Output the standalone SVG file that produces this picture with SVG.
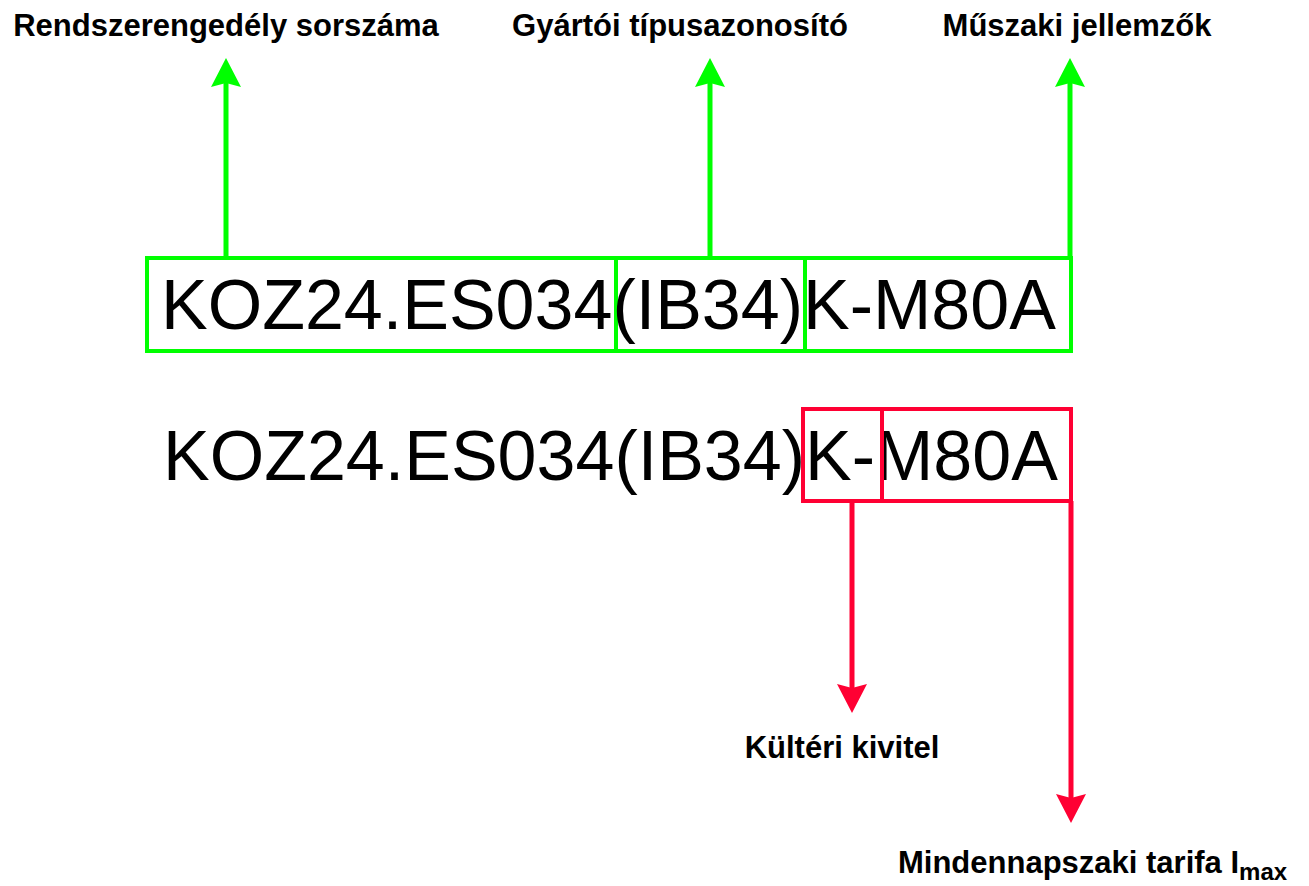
<svg xmlns="http://www.w3.org/2000/svg" width="1309" height="886" viewBox="0 0 1309 886">
<style>
.lbl{font-family:"Liberation Sans",Arial,sans-serif;font-weight:bold;font-size:31px;fill:#000}
.code{font-family:"Liberation Sans",Arial,sans-serif;font-size:70px;fill:#000}
.gbox{fill:none;stroke:#00FF00;stroke-width:4}
.rbox{fill:none;stroke:#FF0033;stroke-width:4}
.gline{fill:none;stroke:#00FF00;stroke-width:5}
.rline{fill:none;stroke:#FF0033;stroke-width:5}
</style>
<defs>
<marker id="ag" markerUnits="userSpaceOnUse" viewBox="0 0 29 30" markerWidth="29" markerHeight="30" refX="4" refY="15" orient="auto">
<path d="M0,0 L29,15 L0,30 L4,15 Z" fill="#00FF00"/>
</marker>
<marker id="ar" markerUnits="userSpaceOnUse" viewBox="0 0 29 30" markerWidth="29" markerHeight="30" refX="4" refY="15" orient="auto">
<path d="M0,0 L29,15 L0,30 L4,15 Z" fill="#FF0033"/>
</marker>
</defs>
<rect width="1309" height="886" fill="#fff"/>
<g id="connectors">
<path class="gline" d="M226,258 L226,83" marker-end="url(#ag)"/>
<path class="gline" d="M710,258 L710,83" marker-end="url(#ag)"/>
<path class="gline" d="M1070,258 L1070,83" marker-end="url(#ag)"/>
<path class="rline" d="M852,501 L852,688" marker-end="url(#ar)"/>
<path class="rline" d="M1071,501 L1071,798" marker-end="url(#ar)"/>
</g>
<g id="label-rendszer"><text class="lbl" x="226" y="36" text-anchor="middle">Rendszerengedély sorszáma</text></g>
<g id="label-gyartoi"><text class="lbl" x="680" y="36" text-anchor="middle">Gyártói típusazonosító</text></g>
<g id="label-muszaki"><text class="lbl" x="1077" y="36" text-anchor="middle">Műszaki jellemzők</text></g>
<g id="code-top">
<rect class="gbox" x="147" y="258" width="469" height="93"/>
<rect class="gbox" x="616" y="258" width="189" height="93"/>
<rect class="gbox" x="805" y="258" width="266" height="93"/>
<text class="code" x="161" y="329">KOZ24.ES034(IB34)K-M80A</text>
</g>
<g id="code-bottom">
<text class="code" x="163" y="480">KOZ24.ES034(IB34)K-M80A</text>
<rect class="rbox" x="803" y="409" width="79" height="92"/>
<rect class="rbox" x="882" y="409" width="189" height="92"/>
</g>
<g id="label-kulteri"><text class="lbl" x="842" y="758" text-anchor="middle">Kültéri kivitel</text></g>
<g id="label-mindennapszaki"><text class="lbl" x="898" y="873" font-size="32">Mindennapszaki tarifa I<tspan font-size="24" dy="7">max</tspan></text></g>
</svg>
